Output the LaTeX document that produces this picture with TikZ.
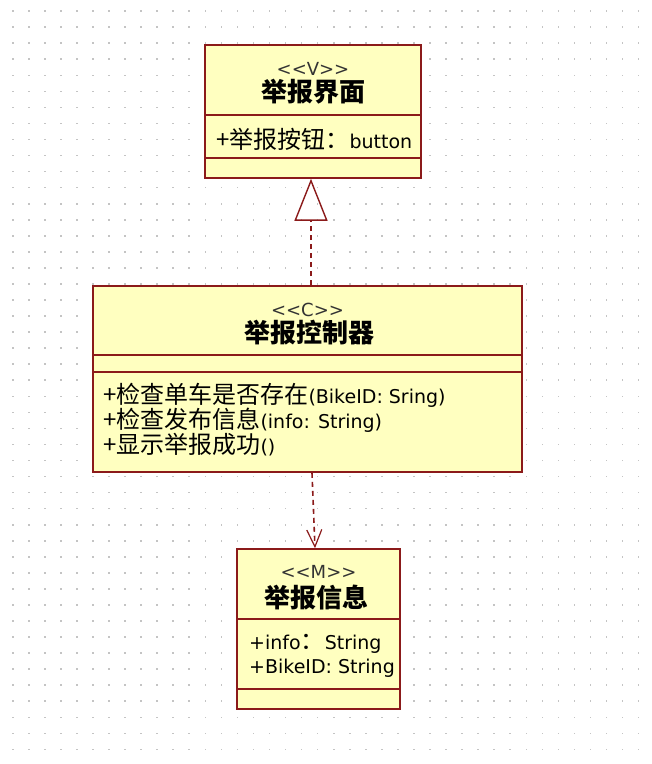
\documentclass[tikz,border=0pt]{standalone}
\usepackage{fontspec}
\setmainfont{DejaVu Sans}
\newfontfamily\cjk{Noto Sans CJK SC}
\newfontfamily\stereofont{DejaVu Sans}[Ligatures=TeXOff]
\usetikzlibrary{arrows.meta, positioning}
\definecolor{classfill}{RGB}{255,255,192}
\definecolor{classline}{RGB}{139,26,26}
\definecolor{griddot}{RGB}{196,196,196}
\tikzset{
	classbox/.style={draw=classline, fill=classfill, line width=1.6pt, inner sep=0pt},
	divider/.style={draw=classline, line width=1.6pt},
	stereo/.style={font=\stereofont\fontsize{18}{18}\selectfont, text=black!80, inner sep=0pt},
	classname/.style={font=\cjk\bfseries\fontsize{26}{26}\selectfont, inner sep=0pt},
	member/.style={font=\fontsize{19}{25}\selectfont, inner sep=0pt, anchor=base west},
	realize/.style={draw=classline, line width=1.6pt, dash pattern=on 5pt off 4pt,
		-{Triangle[open, width=33pt, length=42pt, line width=1.4pt]}},
	depend/.style={draw=classline, line width=1.6pt, dash pattern=on 5pt off 4pt,
		-{Straight Barb[width=15pt, length=17pt, line width=1.2pt]}}
}
\newcommand{\zh}[1]{{\cjk\fontsize{24}{25}\selectfont #1}}

\begin{document}
\begin{tikzpicture}[x=1pt, y=-1pt]
	\fill[white] (0,0) rectangle (652,764);
	\useasboundingbox (0,0) rectangle (652,764);

	% dot grid
	\foreach \i in {0,...,39}
		\foreach \j in {0,...,46}
			\fill[griddot] (11.9+16.05*\i, 11.9+16.05*\j) rectangle ++(1.6,-1.6);

	% view class
	\node[classbox, minimum width=216pt, minimum height=133pt] (V) at (313,111.5) {};
	\draw[divider] ([yshift=-71pt]V.north west) -- ([yshift=-71pt]V.north east);
	\draw[divider] ([yshift=-114pt]V.north west) -- ([yshift=-114pt]V.north east);
	\node[stereo]    (Vs) at (313,69)    {<<V>>};
	\node[classname] (Vn) at (313,92)    {举报界面};
	\node[member]    (V1) at (216,148.5) {\zh{+举报按钮：}button};

	% control class
	\node[classbox, minimum width=429pt, minimum height=186pt] (C) at (307.5,379) {};
	\draw[divider] ([yshift=-70pt]C.north west) -- ([yshift=-70pt]C.north east);
	\draw[divider] ([yshift=-87pt]C.north west) -- ([yshift=-87pt]C.north east);
	\node[stereo]    (Cs) at (307.5,309.5) {<<C>>};
	\node[classname] (Cn) at (309,332.5)   {举报控制器};
	\node[member]    (C1) at (103,403)     {\zh{+检查单车是否存在}(BikeID: Sring)};
	\node[member]    (C2) at (103,428)     {\zh{+检查发布信息}(info: String)};
	\node[member]    (C3) at (103,453)     {\zh{+显示举报成功}()};

	% model class
	\node[classbox, minimum width=163pt, minimum height=160pt] (M) at (318.5,629) {};
	\draw[divider] ([yshift=-71pt]M.north west) -- ([yshift=-71pt]M.north east);
	\draw[divider] ([yshift=-141pt]M.north west) -- ([yshift=-141pt]M.north east);
	\node[stereo]    (Ms) at (318.5,571.5) {<<M>>};
	\node[classname] (Mn) at (316.5,597.5) {举报信息};
	\node[member]    (M1) at (249,649)     {+info\zh{：}String};
	\node[member]    (M2) at (249,673)     {+BikeID: String};

	% connectors
	\path[realize] ([xshift=3.5pt]C.north) -- ([xshift=-2pt]V.south);
	\path[depend]  ([xshift=4.5pt]C.south) -- ([xshift=-3.5pt]M.north);
\end{tikzpicture}
\end{document}
